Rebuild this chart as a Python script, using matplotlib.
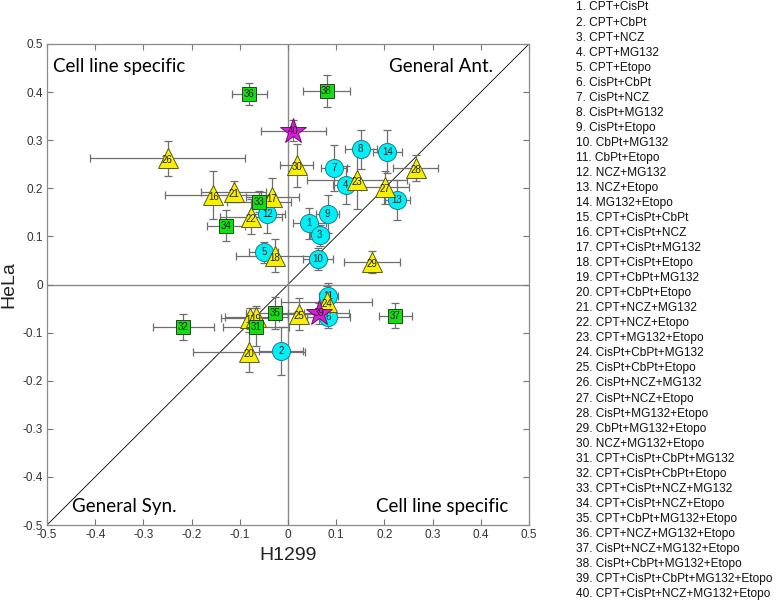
import matplotlib
matplotlib.use("Agg")
import matplotlib.pyplot as plt
import numpy as np

names = ["CPT+CisPt", "CPT+CbPt", "CPT+NCZ", "CPT+MG132", "CPT+Etopo",
         "CisPt+CbPt", "CisPt+NCZ", "CisPt+MG132", "CisPt+Etopo", "CbPt+MG132",
         "CbPt+Etopo", "NCZ+MG132", "NCZ+Etopo", "MG132+Etopo",
         "CPT+CisPt+CbPt", "CPT+CisPt+NCZ", "CPT+CisPt+MG132", "CPT+CisPt+Etopo",
         "CPT+CbPt+MG132", "CPT+CbPt+Etopo", "CPT+NCZ+MG132", "CPT+NCZ+Etopo",
         "CPT+MG132+Etopo", "CisPt+CbPt+MG132", "CisPt+CbPt+Etopo", "CisPt+NCZ+MG132",
         "CisPt+NCZ+Etopo", "CisPt+MG132+Etopo", "CbPt+MG132+Etopo", "NCZ+MG132+Etopo",
         "CPT+CisPt+CbPt+MG132", "CPT+CisPt+CbPt+Etopo", "CPT+CisPt+NCZ+MG132",
         "CPT+CisPt+NCZ+Etopo", "CPT+CbPt+MG132+Etopo", "CPT+NCZ+MG132+Etopo",
         "CisPt+NCZ+MG132+Etopo", "CisPt+CbPt+MG132+Etopo",
         "CPT+CisPt+CbPt+MG132+Etopo", "CPT+CisPt+NCZ+MG132+Etopo"]

h1299 = [0.044, -0.015, 0.066, 0.120, -0.050, 0.084, 0.096, 0.151, 0.082, 0.062,
         0.084, -0.043, 0.226, 0.206,
         -0.078, -0.155, -0.033, -0.027, -0.066, -0.081, -0.113, -0.077, 0.143, 0.080,
         0.023, -0.250, 0.202, 0.265, 0.174, 0.018,
         -0.066, -0.217, -0.060, -0.129, -0.027, -0.080, 0.223, 0.080,
         0.064, 0.011]
hela = [0.127, -0.138, 0.102, 0.207, 0.067, -0.067, 0.243, 0.281, 0.147, 0.053,
        -0.023, 0.147, 0.176, 0.276,
        -0.070, 0.186, 0.181, 0.060, -0.067, -0.140, 0.193, 0.141, 0.217, -0.036,
        -0.062, 0.262, 0.202, 0.242, 0.047, 0.248,
        -0.088, -0.088, 0.172, 0.122, -0.059, 0.396, -0.065, 0.403,
        -0.060, 0.320]
h1299_err = [0.034, 0.046, 0.020, 0.027, 0.030, 0.044, 0.027, 0.033, 0.024, 0.031,
             0.020, 0.037, 0.027, 0.030,
             0.060, 0.100, 0.055, 0.080, 0.065, 0.117, 0.067, 0.064, 0.103, 0.094,
             0.040, 0.160, 0.050, 0.047, 0.058, 0.034,
             0.069, 0.063, 0.067, 0.040, 0.060, 0.037, 0.035, 0.048,
             0.063, 0.067]
hela_err = [0.033, 0.050, 0.022, 0.040, 0.022, 0.024, 0.048, 0.041, 0.039, 0.022,
            0.027, 0.039, 0.042, 0.045,
            0.022, 0.050, 0.041, 0.035, 0.022, 0.041, 0.022, 0.036, 0.061, 0.033,
            0.033, 0.037, 0.035, 0.027, 0.023, 0.045,
            0.040, 0.027, 0.022, 0.032, 0.033, 0.023, 0.026, 0.033,
            0.022, 0.022]

ticks = [-0.5, -0.4, -0.3, -0.2, -0.1, 0, 0.1, 0.2, 0.3, 0.4, 0.5]
tick_labels = ["-0.5", "-0.4", "-0.3", "-0.2", "-0.1", "0", "0.1", "0.2", "0.3", "0.4", "0.5"]

# style by number of drugs in the combination
style = {
    2: dict(marker="o", ms=13, mfc="#00f0f8", mec="#1a7f8f"),
    3: dict(marker="^", ms=14, mfc="#f8f000", mec="#5a5a10"),
    4: dict(marker="s", ms=9.8, mfc="#10e010", mec="#1a4a1a"),
    5: dict(marker="*", ms=19, mfc="#d61ed6", mec="#6a106a"),
}

plt.rcParams["font.family"] = ["Liberation Sans", "DejaVu Sans"]
W, H = 780, 605
fig = plt.figure(figsize=(W / 100, H / 100), dpi=100)
ax = fig.add_axes([47 / W, (H - 525) / H, 482 / W, 481 / H])

ax.plot([-0.5, 0.5], [-0.5, 0.5], color="black", lw=0.6, zorder=1)
ax.axhline(0, color="#8a8a8a", lw=1.0, zorder=1)
ax.axvline(0, color="#8a8a8a", lw=1.0, zorder=1)

for i, name in enumerate(names):
    n = name.count("+") + 1
    st = style[n]
    z = 3 + i * 0.01
    ax.errorbar(h1299[i], hela[i], xerr=h1299_err[i], yerr=hela_err[i],
                fmt="none", ecolor="#6e6e6e", elinewidth=0.9, capsize=2.6,
                capthick=0.9, zorder=2)
    ax.plot(h1299[i], hela[i], linestyle="none", marker=st["marker"],
            markersize=st["ms"], markerfacecolor=st["mfc"],
            markeredgecolor=st["mec"], markeredgewidth=0.7, zorder=z)
    dy = -0.004 if n == 3 else 0.0
    ax.text(h1299[i], hela[i] + dy, str(i + 1), ha="center", va="center",
            fontsize=7, color="#222222", zorder=z + 0.005)

qfont = dict(family=["Lato", "DejaVu Sans"], fontsize=13.5, color="black")
ax.text(-0.488, 0.442, "Cell line specific", ha="left", va="baseline", **qfont)
ax.text(0.425, 0.442, "General Ant.", ha="right", va="baseline", **qfont)
ax.text(-0.449, -0.474, "General Syn.", ha="left", va="baseline", **qfont)
ax.text(0.456, -0.474, "Cell line specific", ha="right", va="baseline", **qfont)

ax.set_xlim(-0.5, 0.5)
ax.set_ylim(-0.5, 0.5)
ax.set_xticks(ticks)
ax.set_xticklabels(tick_labels)
ax.set_yticks(ticks)
ax.set_yticklabels(tick_labels)
ax.tick_params(direction="in", top=True, right=True, length=4, width=0.8,
               color="#777777", labelsize=8.5, labelcolor="#333333", pad=3)
for sp in ax.spines.values():
    sp.set_color("#8a8a8a")
    sp.set_linewidth(0.9)
ax.set_xlabel("H1299", fontsize=14, color="#222222", labelpad=4)
ax.set_ylabel("HeLa", fontsize=14, color="#222222", labelpad=4)

for i, name in enumerate(names):
    ypx = 7.5 + i * 15.04
    fig.text(576 / W, 1 - ypx / H, f"{i + 1}. {name}", ha="left", va="center",
             fontsize=8.6, color="#111111")

fig.savefig("out.png", dpi=100)
